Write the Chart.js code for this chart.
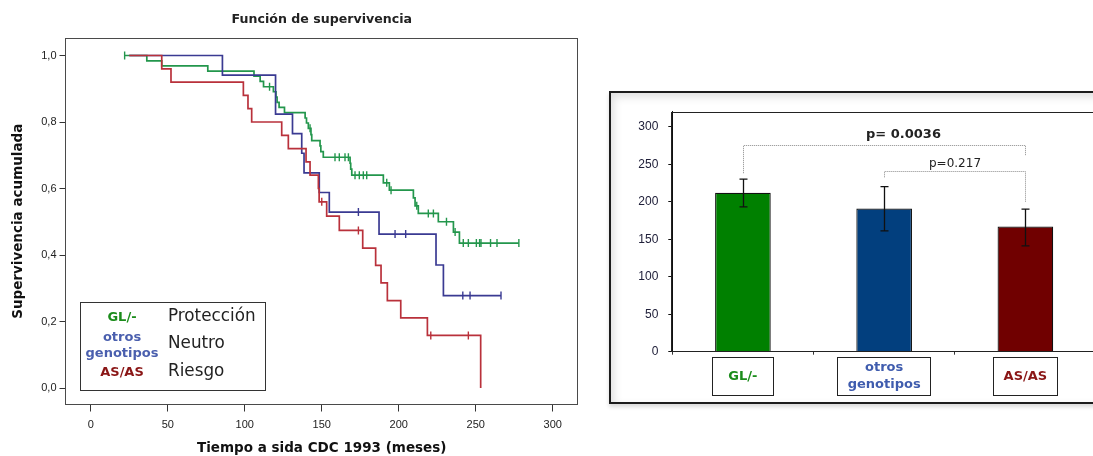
<!DOCTYPE html>
<html>
<head>
<meta charset="utf-8">
<script src="https://cdn.jsdelivr.net/npm/chart.js@4.4.1/dist/chart.umd.min.js"></script>
<style>
  html, body { margin: 0; padding: 0; background: #fff; overflow: hidden; width: 1093px; height: 456px; }
  #km { position: absolute; left: 0; top: 0; width: 609px; height: 456px; }
  #barFrame {
    position: absolute; left: 609px; top: 91px; width: 540px; height: 309px;
    border: 2px solid #1c1c1c; background: #fff;
    box-shadow: inset 3px 4px 9px rgba(0,0,0,0.13), 0 3px 4px rgba(0,0,0,0.15);
  }
  #bars { position: absolute; left: 609px; top: 0; width: 500px; height: 456px; }
</style>
</head>
<body>
<canvas id="km" width="609" height="456"></canvas>
<div id="barFrame"></div>
<canvas id="bars" width="500" height="456"></canvas>
<script>
// ---------- Kaplan-Meier curves (months, cumulative survival) ----------
const kmTitle = 'Función de supervivencia';
const kmXTitle = 'Tiempo a sida CDC 1993 (meses)';
const kmYTitle = 'Supervivencia acumulada';
const kmXTicks = [0, 50, 100, 150, 200, 250, 300];
const kmYTicks = [0, 0.2, 0.4, 0.6, 0.8, 1.0];

// GL/- (Protección)
const glTimes = [22, 36.4, 46.1, 76, 106, 110, 112.2, 118.6, 120.3, 121, 122.3, 125.8,
                 139.2, 140.1, 141.3, 143, 143.5, 148.9, 149.4, 151, 168.4, 168.8, 169.5,
                 190, 193.9, 209.5, 210.6, 212.7, 225.7, 235.5, 239.4];
const glSurv  = [1.0, 0.984, 0.969, 0.953, 0.938, 0.922, 0.906, 0.891, 0.875, 0.859, 0.844, 0.828,
                 0.812, 0.797, 0.781, 0.762, 0.744, 0.728, 0.711, 0.694, 0.676, 0.658, 0.640,
                 0.617, 0.595, 0.572, 0.548, 0.525, 0.500, 0.469, 0.436];
const glCensored = [22, 116.1, 142.4, 158.6, 161.4, 165.1, 167.3, 171.6, 174.4, 177, 179.2,
                    192.2, 195, 211.7, 219.2, 222.5, 231, 236.6, 241.9, 245.2, 250.4, 252.5,
                    253.4, 259.6, 263.8, 278];

// otros genotipos (Neutro)
const otTimes = [25, 85.5, 120, 131, 137, 138.5, 148.4, 154.9, 187.2, 224.2, 229];
const otSurv  = [1.0, 0.941, 0.824, 0.765, 0.706, 0.647, 0.588, 0.529, 0.463, 0.370, 0.278];
const otCensored = [173.8, 197.6, 204.5, 241.6, 246.3, 266.4];

// AS/AS (Riesgo)
const asTimes = [25, 46.1, 52.1, 99.1, 102.1, 104.5, 124, 128.3, 139.8, 142.4, 147.8, 148.3,
                 153.2, 161.4, 176.6, 185, 188.5, 192.6, 201.3, 218.6, 253.2];
const asSurv  = [1.0, 0.96, 0.92, 0.88, 0.84, 0.80, 0.76, 0.72, 0.68, 0.64, 0.60, 0.56,
                 0.517, 0.474, 0.421, 0.369, 0.316, 0.263, 0.211, 0.158, 0.0];
const asCensored = [150, 173.8, 220.8, 245.2];

const groupNames = [['GL/-'], ['otros', 'genotipos'], ['AS/AS']];
const riskNames = ['Protección', 'Neutro', 'Riesgo'];

// ---------- Mean survival time per group ----------
const barCategories = ['GL/-', ['otros', 'genotipos'], 'AS/AS'];
const barMeans = [212, 191, 167];
const barLower = [193, 161, 141];
const barUpper = [230, 220, 190];
const barYTicks = [0, 50, 100, 150, 200, 250, 300];
const pValueLabels = ['p= 0.0036', 'p=0.217'];
const pValuePairs = [[0, 2], [1, 2]];

// colours
const curveColors = ['#23964c', '#3a3a92', '#b9313b'];
const groupTextColors = ['#1b8c1b', '#4a5fae', '#8a1616'];
const barLabelColors = ['#1b8c1b', '#3f5cae', '#8a1616'];
const barColors = ['#008000', '#023f7e', '#700000'];

// ---------- helpers ----------
function survivalAt(times, surv, t) {
  let s = surv[0];
  for (let i = 0; i < times.length; i++) if (times[i] <= t) s = surv[i];
  return s;
}
function curvePoints(times, surv, censored) {
  const pts = times.map((t, i) => ({ x: t, y: surv[i] }));
  const end = censored.length ? Math.max(...censored) : -Infinity;
  if (end > times[times.length - 1]) pts.push({ x: end, y: surv[surv.length - 1] });
  return pts;
}
function censorPoints(times, surv, censored) {
  return censored.map(t => ({ x: t, y: survivalAt(times, surv, t) }));
}
function curveSet(label, times, surv, censored, color) {
  return { type: 'line', label, data: curvePoints(times, surv, censored), stepped: 'before',
           borderColor: color, borderWidth: 1.7, pointRadius: 0, fill: false };
}
function censorSet(label, times, surv, censored, color) {
  return { type: 'scatter', label, data: censorPoints(times, surv, censored),
           pointStyle: 'line', rotation: 90, pointRadius: 4, borderColor: color,
           borderWidth: 1.4, showLine: false };
}

const sans = 'DejaVu Sans, Verdana, sans-serif';
const arial = 'Liberation Sans, Arial, sans-serif';

// frame around a chart area
const areaFrame = {
  id: 'areaFrame',
  afterDraw(chart, args, opts) {
    const { ctx, chartArea: a } = chart;
    ctx.save();
    ctx.strokeStyle = opts.color || '#555';
    ctx.lineWidth = 1;
    const l = Math.round(a.left) - 0.5, t = Math.round(a.top) + 0.5;
    const r = Math.round(a.right) - 0.5, b = Math.round(a.bottom) - 0.5;
    ctx.strokeRect(l, t, r - l, b - t);
    ctx.restore();
  }
};

// boxed legend linking genotype to risk group
const kmLegend = {
  id: 'kmLegend',
  afterDraw(chart) {
    const { ctx } = chart;
    const bx = 80.5, by = 302.5, bw = 185, bh = 88;
    ctx.save();
    ctx.fillStyle = '#fff';
    ctx.fillRect(bx, by, bw, bh);
    ctx.strokeStyle = '#333';
    ctx.lineWidth = 1;
    ctx.strokeRect(bx, by, bw, bh);
    ctx.textBaseline = 'middle';
    ctx.textAlign = 'center';
    ctx.font = 'bold 13px ' + sans;
    const groupLineY = [[318], [338, 354], [373]];
    groupNames.forEach((lines, i) => {
      ctx.fillStyle = groupTextColors[i];
      lines.forEach((txt, j) => ctx.fillText(txt, 122, groupLineY[i][j]));
    });
    ctx.textAlign = 'left';
    ctx.font = '16.8px ' + sans;
    ctx.fillStyle = '#222';
    const riskY = [317, 344, 372];
    riskNames.forEach((txt, i) => ctx.fillText(txt, 168, riskY[i]));
    ctx.restore();
  }
};

new Chart(document.getElementById('km'), {
  data: {
    datasets: [
      censorSet('AS/AS', asTimes, asSurv, asCensored, curveColors[2]),
      curveSet('AS/AS', asTimes, asSurv, asCensored, curveColors[2]),
      censorSet('otros genotipos', otTimes, otSurv, otCensored, curveColors[1]),
      curveSet('otros genotipos', otTimes, otSurv, otCensored, curveColors[1]),
      censorSet('GL/-', glTimes, glSurv, glCensored, curveColors[0]),
      curveSet('GL/-', glTimes, glSurv, glCensored, curveColors[0])
    ]
  },
  options: {
    responsive: false,
    animation: false,
    devicePixelRatio: 1,
    layout: { padding: { left: 0, right: 31, top: 0, bottom: 0 } },
    plugins: {
      legend: { display: false },
      tooltip: { enabled: false },
      title: {
        display: true, text: kmTitle, fullSize: false, color: '#222',
        font: { family: sans, weight: 'bold', size: 12.6 },
        padding: { top: 12.5, bottom: 10.4 }
      },
      areaFrame: { color: '#4a4a4a' }
    },
    scales: {
      x: {
        type: 'linear', min: -16.4, max: 316.4,
        afterBuildTicks: s => { s.ticks = kmXTicks.map(v => ({ value: v })); },
        afterFit: s => { s.height = 51.5; },
        border: { display: false },
        grid: { drawOnChartArea: false, drawTicks: true, tickLength: 7, color: '#333' },
        ticks: { color: '#222', font: { family: arial, size: 11 }, padding: 7, maxRotation: 0 },
        title: { display: true, text: kmXTitle, color: '#111',
                 font: { family: sans, weight: 'bold', size: 13.5 }, padding: { top: 0, bottom: -1 } }
      },
      y: {
        type: 'linear', min: -0.0496, max: 1.0526,
        afterBuildTicks: s => { s.ticks = kmYTicks.map(v => ({ value: v })); },
        afterFit: s => { s.width = 65.5; },
        border: { display: false },
        grid: { drawOnChartArea: false, drawTicks: true, tickLength: 6, color: '#333' },
        ticks: { color: '#222', font: { family: arial, size: 11 }, padding: 3,
                 callback: v => v.toFixed(1).replace('.', ',') },
        title: { display: true, text: kmYTitle, color: '#111',
                 font: { family: sans, weight: 'bold', size: 13.5 }, padding: { top: 10, bottom: 0 } }
      }
    }
  },
  plugins: [areaFrame, kmLegend]
});

// ---------- bar chart with error bars and p-value brackets ----------
const labelBoxes = {
  id: 'labelBoxes',
  beforeDraw(chart) {
    const { ctx, scales: { x }, chartArea: a } = chart;
    ctx.save();
    ctx.font = 'bold 13px ' + sans;
    barCategories.forEach((cat, i) => {
      const lines = Array.isArray(cat) ? cat : [cat];
      const tw = Math.max(...lines.map(s => ctx.measureText(s).width));
      const w = Math.round(Math.max(tw + 20, 61));
      const cx = Math.round(x.getPixelForTick(i));
      const left = cx - Math.round(w / 2) + 0.5;
      const top = Math.round(a.bottom + 5) + 0.5;
      ctx.fillStyle = '#fff';
      ctx.fillRect(left, top, w, 38);
      ctx.strokeStyle = '#222';
      ctx.lineWidth = 1;
      ctx.strokeRect(left, top, w, 38);
    });
    ctx.restore();
  }
};

const errorBars = {
  id: 'errorBars',
  afterDatasetsDraw(chart) {
    const { ctx, scales: { x, y } } = chart;
    ctx.save();
    ctx.strokeStyle = '#111';
    ctx.lineWidth = 1.3;
    barMeans.forEach((m, i) => {
      const cx = Math.round(x.getPixelForValue(i)) + 0.5;
      const yl = y.getPixelForValue(barLower[i]);
      const yh = y.getPixelForValue(barUpper[i]);
      ctx.beginPath();
      ctx.moveTo(cx, yl); ctx.lineTo(cx, yh);
      ctx.moveTo(cx - 4, yl); ctx.lineTo(cx + 4, yl);
      ctx.moveTo(cx - 4, yh); ctx.lineTo(cx + 4, yh);
      ctx.stroke();
    });

    // significance brackets: [top level, left end, right end] in axis units
    const levels = [[275.5, 238, 261], [241, 232.5, 200]];
    const textSpec = [
      { font: 'bold 13px ' + sans, dx: 19, level: 289 },
      { font: '12px ' + sans, dx: 0, level: 251 }
    ];
    pValuePairs.forEach(([a, b], k) => {
      const x1 = Math.round(x.getPixelForValue(a)) + 0.5;
      const x2 = Math.round(x.getPixelForValue(b)) + 0.5;
      const yt = Math.round(y.getPixelForValue(levels[k][0])) + 0.5;
      ctx.save();
      ctx.strokeStyle = '#8a8a8a';
      ctx.lineWidth = 1;
      ctx.setLineDash([1, 1]);
      ctx.beginPath();
      ctx.moveTo(x1, y.getPixelForValue(levels[k][1]));
      ctx.lineTo(x1, yt);
      ctx.lineTo(x2, yt);
      ctx.lineTo(x2, y.getPixelForValue(levels[k][2]));
      ctx.stroke();
      ctx.restore();
      ctx.fillStyle = '#222';
      ctx.font = textSpec[k].font;
      ctx.textAlign = 'center';
      ctx.textBaseline = 'middle';
      ctx.fillText(pValueLabels[k], (x1 + x2) / 2 + textSpec[k].dx, y.getPixelForValue(textSpec[k].level));
    });
    ctx.restore();
  }
};

new Chart(document.getElementById('bars'), {
  type: 'bar',
  data: {
    labels: barCategories,
    datasets: [{
      data: barMeans,
      backgroundColor: barColors,
      borderColor: '#111',
      borderWidth: 1.2,
      borderSkipped: 'bottom',
      barPercentage: 0.394,
      categoryPercentage: 1.0
    }]
  },
  options: {
    responsive: false,
    animation: false,
    devicePixelRatio: 1,
    layout: { padding: { left: 0, right: 13, top: 111.7, bottom: 0 } },
    plugins: { legend: { display: false }, tooltip: { enabled: false }, areaFrame: { color: '#222' } },
    scales: {
      x: {
        afterFit: s => { s.height = 104.3; },
        border: { display: true, color: '#111', width: 1 },
        grid: { offset: true, drawOnChartArea: false, drawTicks: true, tickLength: 3, color: '#333' },
        ticks: {
          font: { family: sans, weight: 'bold', size: 13, lineHeight: 1.3 },
          color: barLabelColors,
          crossAlign: 'center',
          padding: 13,
          maxRotation: 0
        }
      },
      y: {
        min: 0, max: 320,
        afterBuildTicks: s => { s.ticks = barYTicks.map(v => ({ value: v })); },
        afterFit: s => { s.width = 63.3; },
        border: { display: true, color: '#111', width: 1 },
        grid: { drawOnChartArea: false, drawTicks: true, tickLength: 4, color: '#111' },
        ticks: { color: '#20203a', font: { family: arial, size: 12 }, padding: 10 }
      }
    }
  },
  plugins: [labelBoxes, areaFrame, errorBars]
});
</script>
</body>
</html>
